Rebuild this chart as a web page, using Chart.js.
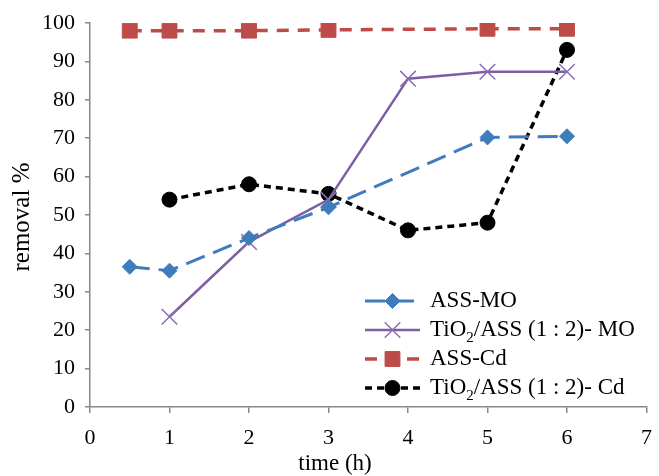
<!DOCTYPE html>
<html lang="en">
<head>
    <meta charset="UTF-8">
    <title>removal % vs time</title>
    <script src="https://cdn.jsdelivr.net/npm/chart.js"></script>
    <style>
        body { margin: 0; background: #fff; }
        #wrap { width: 659px; height: 476px; }
    </style>
</head>
<body>
    <div id="wrap"><canvas id="removalChart" width="659" height="476"></canvas></div>
    <script>
        // time points (h) and removal %
        const assMoTime = [0.5, 1, 2, 3, 5, 6];
        const assMo = [36.5, 35.5, 44, 52, 70.2, 70.5];

        const tioMoTime = [1, 2, 3, 4, 5, 6];
        const tioMo = [23.5, 43, 54, 85.5, 87.3, 87.3];

        const assCdTime = [0.5, 1, 2, 3, 5, 6];
        const assCd = [98, 98, 98, 98.2, 98.5, 98.5];

        const tioCdTime = [1, 2, 3, 4, 5, 6];
        const tioCd = [54, 58, 55.5, 46, 48, 93];

        const xTicks = [0, 1, 2, 3, 4, 5, 6, 7];
        const yTicks = [0, 10, 20, 30, 40, 50, 60, 70, 80, 90, 100];

        const toPoints = (xs, ys) => xs.map((x, i) => ({ x: x, y: ys[i] }));

        // legend labels: [main, subscript, rest]
        const legendParts = [
            ['ASS-MO', '', ''],
            ['TiO', '2', '/ASS (1 : 2)- MO'],
            ['ASS-Cd', '', ''],
            ['TiO', '2', '/ASS (1 : 2)- Cd']
        ];
        const xTitle = 'time (h)';
        const yTitle = 'removal %';

        const serif = "'Liberation Serif', 'DejaVu Serif', serif";

        // legend inside the plot (bottom right) and the two axis titles
        const extras = {
            id: 'extras',
            afterDraw(chart) {
                const ctx = chart.ctx;
                const x0 = 365, x1 = 420, tx = 430;
                const rows = [301, 330, 359, 388];
                chart.data.datasets.forEach((ds, i) => {
                    const y = rows[i];
                    ctx.save();
                    ctx.strokeStyle = ds.borderColor;
                    ctx.lineWidth = ds.borderWidth;
                    ctx.setLineDash(ds.borderDash || []);
                    ctx.beginPath();
                    ctx.moveTo(x0, y);
                    ctx.lineTo(x1, y);
                    ctx.stroke();
                    ctx.setLineDash([]);
                    ctx.fillStyle = ds.pointBackgroundColor || ds.borderColor;
                    ctx.strokeStyle = ds.pointBorderColor || ds.borderColor;
                    ctx.lineWidth = ds.pointBorderWidth;
                    Chart.helpers.drawPoint(ctx, {
                        pointStyle: ds.pointStyle,
                        radius: ds.pointRadius,
                        borderWidth: ds.pointBorderWidth
                    }, (x0 + x1) / 2, y);
                    ctx.restore();

                    ctx.save();
                    ctx.fillStyle = '#000';
                    ctx.textBaseline = 'middle';
                    ctx.font = '23px ' + serif;
                    const p = legendParts[i];
                    let cx = tx;
                    ctx.fillText(p[0], cx, y);
                    cx += ctx.measureText(p[0]).width;
                    if (p[1]) {
                        ctx.font = '15px ' + serif;
                        ctx.fillText(p[1], cx, y + 8);
                        cx += ctx.measureText(p[1]).width;
                        ctx.font = '23px ' + serif;
                        ctx.fillText(p[2], cx, y);
                    }
                    ctx.restore();
                });

                ctx.save();
                ctx.fillStyle = '#000';
                ctx.textAlign = 'center';
                ctx.textBaseline = 'middle';
                ctx.font = '23px ' + serif;
                ctx.fillText(xTitle, 335, 464);
                ctx.translate(22, 217);
                ctx.rotate(-Math.PI / 2);
                ctx.font = '25px ' + serif;
                ctx.fillText(yTitle, 0, 0);
                ctx.restore();
            }
        };

        const ctx = document.getElementById('removalChart').getContext('2d');
        new Chart(ctx, {
            type: 'scatter',
            data: {
                datasets: [{
                    label: 'ASS-MO',
                    data: toPoints(assMoTime, assMo),
                    showLine: true,
                    borderColor: '#3f7cbc',
                    backgroundColor: '#3f7cbc',
                    borderWidth: 3,
                    borderDash: [20, 9],
                    pointStyle: 'rectRot',
                    pointRadius: 7.5,
                    pointBorderWidth: 1,
                    pointBackgroundColor: '#3f7cbc',
                    pointBorderColor: '#3f7cbc'
                }, {
                    label: 'TiO₂/ASS (1 : 2)- MO',
                    data: toPoints(tioMoTime, tioMo),
                    showLine: true,
                    borderColor: '#7d5ea3',
                    backgroundColor: '#7d5ea3',
                    borderWidth: 2.5,
                    pointStyle: 'crossRot',
                    pointRadius: 11,
                    pointBorderWidth: 1.5,
                    pointBorderColor: '#8a6fb0'
                }, {
                    label: 'ASS-Cd',
                    data: toPoints(assCdTime, assCd),
                    showLine: true,
                    borderColor: '#be4b48',
                    backgroundColor: '#be4b48',
                    borderWidth: 3.5,
                    borderDash: [12, 9],
                    pointStyle: 'rect',
                    pointRadius: 10.5,
                    pointBorderWidth: 1,
                    pointBackgroundColor: '#be4b48',
                    pointBorderColor: '#be4b48'
                }, {
                    label: 'TiO₂/ASS (1 : 2)- Cd',
                    data: toPoints(tioCdTime, tioCd),
                    showLine: true,
                    borderColor: '#000',
                    backgroundColor: '#000',
                    borderWidth: 3.5,
                    borderDash: [7, 5],
                    pointStyle: 'circle',
                    pointRadius: 7.5,
                    pointBorderWidth: 1,
                    pointBackgroundColor: '#000',
                    pointBorderColor: '#000'
                }]
            },
            options: {
                responsive: false,
                animation: false,
                layout: { padding: { top: 23, right: 4, left: 0, bottom: 0 } },
                plugins: {
                    legend: { display: false },
                    tooltip: { enabled: false }
                },
                scales: {
                    x: {
                        type: 'linear',
                        min: 0,
                        max: 7,
                        afterBuildTicks: axis => { axis.ticks = xTicks.map(v => ({ value: v })); },
                        afterFit: axis => { axis.height = 69; axis.paddingLeft = 0; axis.paddingRight = 0; },
                        grid: { drawOnChartArea: false, drawTicks: true, tickLength: 6, color: '#888', lineWidth: 1.5 },
                        border: { color: '#888', width: 1.5 },
                        ticks: { color: '#000', font: { family: serif, size: 22 }, padding: 12 }
                    },
                    y: {
                        min: 0,
                        max: 100,
                        afterBuildTicks: axis => { axis.ticks = yTicks.map(v => ({ value: v })); },
                        afterFit: axis => { axis.width = 90; axis.paddingTop = 0; axis.paddingBottom = 0; },
                        grid: { drawOnChartArea: false, drawTicks: true, tickLength: 5, color: '#888', lineWidth: 1.5 },
                        border: { color: '#888', width: 1.5 },
                        ticks: { color: '#000', font: { family: serif, size: 22 }, padding: 10 }
                    }
                }
            },
            plugins: [extras]
        });
    </script>
</body>
</html>
